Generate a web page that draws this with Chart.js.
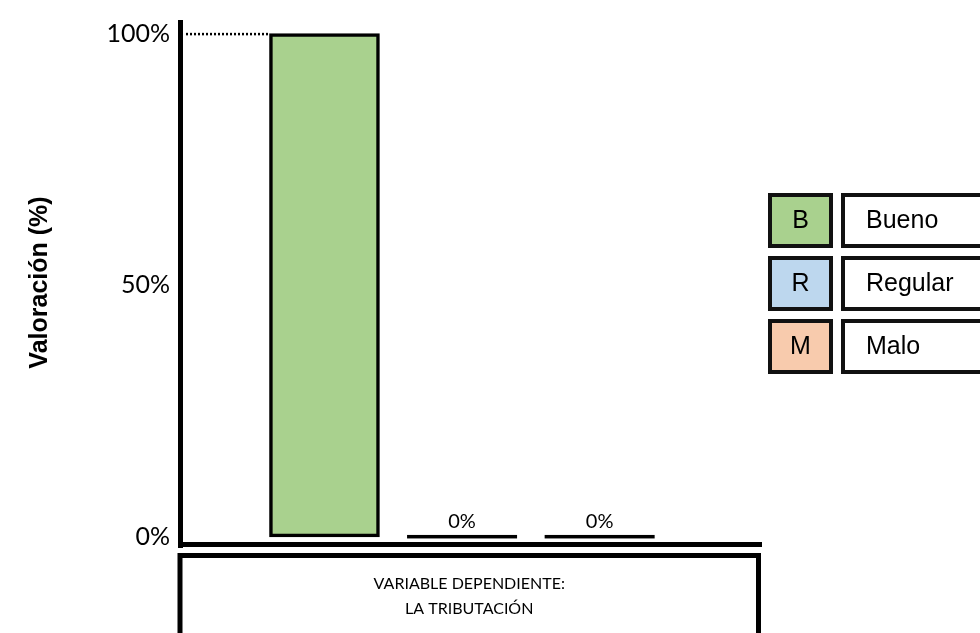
<!DOCTYPE html>
<html>
<head>
<meta charset="utf-8">
<script src="https://cdn.jsdelivr.net/npm/chart.js@4.4.1/dist/chart.umd.min.js"></script>
<style>
  body { margin: 0; background: #fff; }
</style>
</head>
<body>
<canvas id="grafico" width="980" height="633"></canvas>
<script>
const categorias = ["Bueno", "Regular", "Malo"];
const letras = ["B", "R", "M"];
const valores = [100, 0, 0];
const colores = ["#a9d18e", "#bdd7ee", "#f8cbad"];
const ticksY = [0, 50, 100];
const tituloY = "Valoración (%)";
const etiquetaX = ["VARIABLE DEPENDIENTE:", "LA TRIBUTACIÓN"];

// ejes, linea punteada, etiquetas 0%, caja de la variable y leyenda
const marco = {
  id: "marco",
  afterDatasetsDraw(chart) {
    const ctx = chart.ctx;
    const area = chart.chartArea;
    const escalaY = chart.scales.y;
    const meta = chart.getDatasetMeta(0);
    ctx.save();

    ctx.fillStyle = "#000";
    ctx.fillRect(area.left - 2, area.top, 5, area.bottom - area.top + 3);
    ctx.fillRect(area.left - 2, area.bottom - 3, area.right - area.left + 2, 5);

    // linea punteada al 100%
    const barra = meta.data[0];
    const py = escalaY.getPixelForValue(valores[0]) + 0.5;
    ctx.strokeStyle = "#000";
    ctx.lineWidth = 2.5;
    ctx.setLineDash([2, 2]);
    ctx.beginPath();
    ctx.moveTo(area.left + 6, py);
    ctx.lineTo(barra.x - barra.width / 2, py);
    ctx.stroke();
    ctx.setLineDash([]);

    // barras en cero (solo el borde) y sus etiquetas
    ctx.font = "20px Lato";
    ctx.textAlign = "center";
    ctx.textBaseline = "middle";
    meta.data.forEach((el, i) => {
      if (valores[i] === 0) {
        ctx.fillRect(el.x - el.width / 2, el.y - 2, el.width, 3.5);
        ctx.fillText(valores[i] + "%", el.x, el.y - 15);
      }
    });

    // caja de la variable
    ctx.lineWidth = 5;
    ctx.strokeRect(area.left, area.bottom + 10.5, area.right - area.left - 3.5, 100);
    ctx.font = "16px Lato";
    const cx = (area.left + area.right - 3.5) / 2;
    ctx.fillText(etiquetaX[0], cx, area.bottom + 39);
    ctx.fillText(etiquetaX[1], cx, area.bottom + 64);

    // leyenda
    ctx.lineWidth = 4;
    categorias.forEach((nombre, i) => {
      const y0 = 193 + i * 63;
      ctx.fillStyle = colores[i];
      ctx.fillRect(770, y0 + 2, 61, 51);
      ctx.strokeStyle = "#111";
      ctx.strokeRect(770, y0 + 2, 61, 51);
      ctx.fillStyle = "#fff";
      ctx.fillRect(843, y0 + 2, 150, 51);
      ctx.strokeRect(843, y0 + 2, 150, 51);
      ctx.fillStyle = "#000";
      ctx.font = "25px 'Liberation Sans'";
      ctx.textAlign = "center";
      ctx.fillText(letras[i], 800.5, y0 + 28);
      ctx.textAlign = "left";
      ctx.fillText(nombre, 866, y0 + 28);
    });
    ctx.restore();
  }
};

const ctx = document.getElementById("grafico").getContext("2d");
new Chart(ctx, {
  type: "bar",
  data: {
    datasets: [
      {
        data: valores.map((v, i) => ({ x: i + 1, y: v })),
        backgroundColor: colores,
        borderColor: "#000",
        borderWidth: 3.5,
        borderSkipped: false,
        barThickness: 110,
      },
    ],
  },
  options: {
    responsive: false,
    animation: false,
    layout: {
      padding: { left: 0, right: 218, top: 20, bottom: 88 },
    },
    plugins: {
      legend: { display: false },
      tooltip: { enabled: false },
    },
    scales: {
      x: {
        type: "linear",
        offset: false,
        min: -0.05,
        max: 4.18,
        display: false,
      },
      y: {
        min: -1.6,
        max: 102.7,
        afterBuildTicks: (s) => {
          s.ticks = ticksY.map((v) => ({ value: v }));
        },
        afterFit: (s) => {
          s.width = 180;
          s.paddingTop = 0;
          s.paddingBottom = 0;
        },
        ticks: {
          callback: (v) => v + "%",
          font: { family: "Lato", size: 25 },
          color: "#000",
          padding: 10,
        },
        grid: { display: false, drawTicks: false },
        border: { display: false },
        title: {
          display: true,
          text: tituloY,
          color: "#000",
          font: { family: "'Liberation Sans'", size: 25, weight: "bold" },
          padding: { top: 25, bottom: 0 },
        },
      },
    },
  },
  plugins: [marco],
});
</script>
</body>
</html>
